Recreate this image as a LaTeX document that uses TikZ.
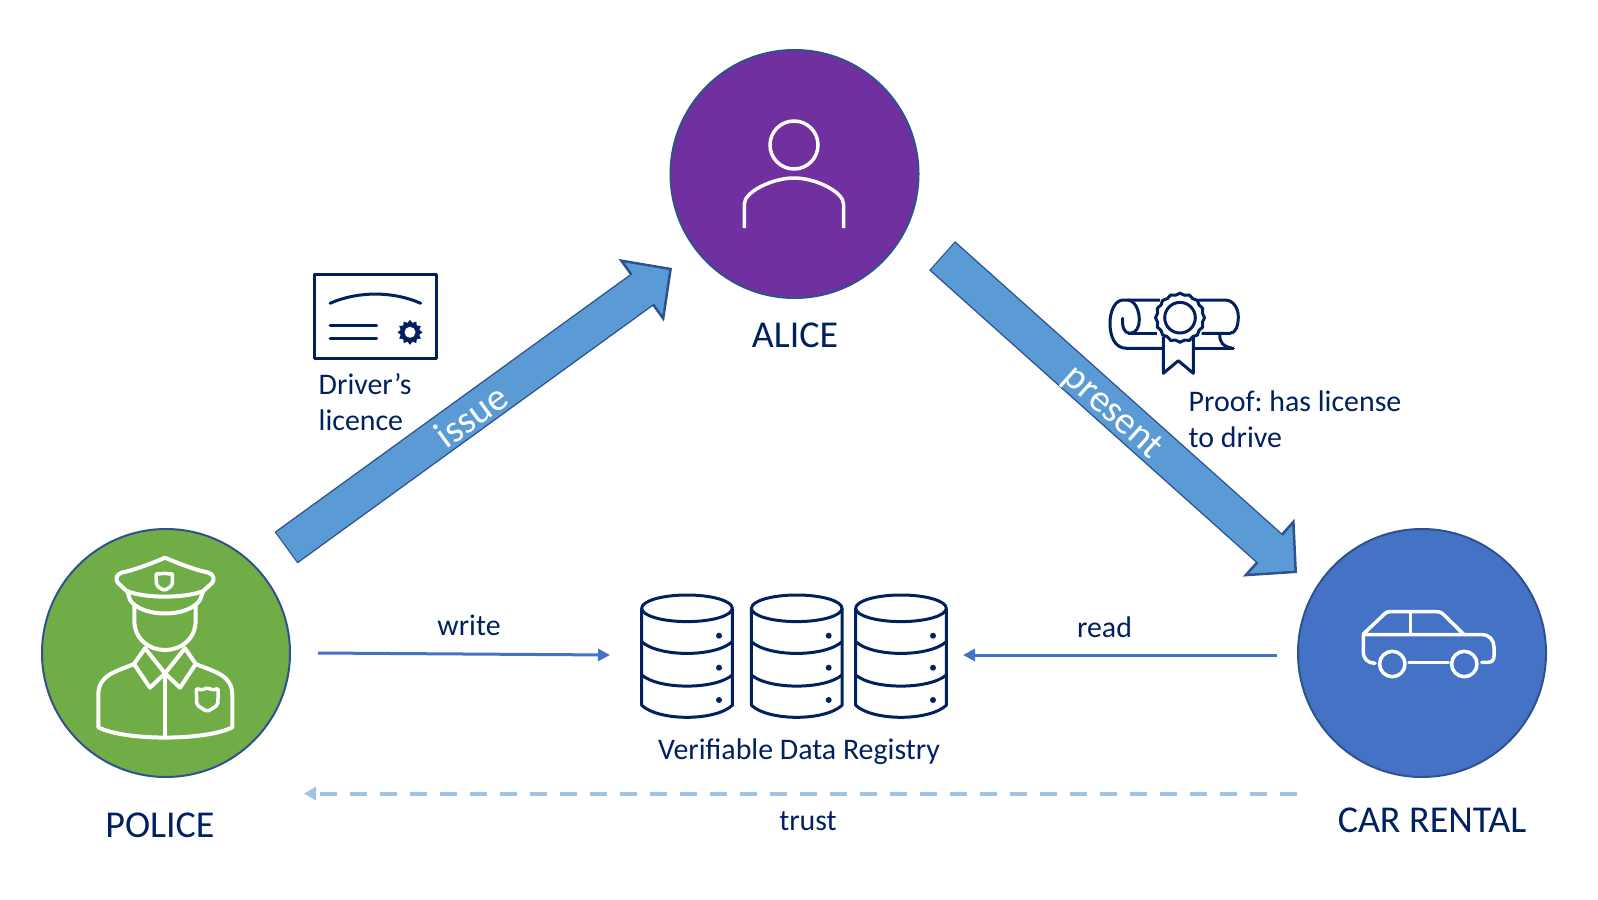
\documentclass[tikz,border=0pt]{standalone}
\usepackage{fontspec}
\setmainfont{Carlito}
\frenchspacing
\usetikzlibrary{arrows.meta,shapes.geometric}
\definecolor{navy}{HTML}{002060}
\definecolor{rim}{HTML}{2F528F}
\definecolor{arrowblue}{HTML}{5B9BD5}
\definecolor{alicepurple}{HTML}{7030A0}
\definecolor{policegreen}{HTML}{70AD47}
\definecolor{rentalblue}{HTML}{4472C4}
\definecolor{trustblue}{HTML}{9DC3E6}
\tikzset{
    party/.style={circle,draw=rim,line width=.2mm,minimum size=24.8mm,inner sep=0pt},
    caption/.style={text=navy,font=\fontsize{10.8pt}{12pt}\selectfont,inner sep=0pt},
    note/.style={text=navy,font=\fontsize{8.5pt}{10.1pt}\selectfont,inner sep=0pt,align=left},
    bigarrow/.style={line width=3.62mm,draw=arrowblue,shorten >=3.4mm,
        preaction={draw=rim,line width=3.9mm,shorten >=0pt,shorten <=-.12mm,
            -{Triangle[length=3.8mm,width=7.7mm,fill=arrowblue,line width=.25mm]}}},
    biglabel/.style={text=white,font=\fontsize{11pt}{12pt}\selectfont,sloped,inner sep=0pt},
    thinarrow/.style={draw=rentalblue,line width=.3mm,-{Triangle[length=1.2mm,width=1.2mm]}},
    icon/.style={line width=.35mm,draw=white,line cap=round,line join=round},
    officer/.style={icon,line width=.4mm},
    navyicon/.style={line width=.3mm,draw=navy,line join=round},
    shield/.pic={
        \draw[icon,rounded corners=.2mm] (-11,-10) -- (-5,-8) -- (0,-11) -- (5,-8) -- (11,-10)
            -- (10.5,6.7) -- (0,13.4) -- (-10.5,6.7) -- cycle;
    },
    dbstack/.pic={
        \draw[navyicon] (0,0) ellipse [x radius=45.3,y radius=13.3];
        \draw[navyicon] (-45.3,0) -- (-45.3,97) .. controls (-28,113) and (28,113) .. (45.3,97) -- (45.3,0);
        \draw[navyicon] (-45.3,33.4) .. controls (-28,49) and (28,49) .. (45.3,33.4);
        \draw[navyicon] (-45.3,66.7) .. controls (-28,81.5) and (28,81.5) .. (45.3,66.7);
        \fill[navy] (32,27.4) circle (3) (32,59.4) circle (3) (32,91.7) circle (3);
    }
}
\begin{document}
\begin{tikzpicture}[x=.1mm,y=-.1mm]
    \useasboundingbox (0,0) rectangle (1598,900);

    % the three parties
    \node[party,fill=alicepurple] (alice) at (794.5,174) {};
    \node[party,fill=policegreen] (police) at (166,653) {};
    \node[party,fill=rentalblue] (rental) at (1422,653) {};
    \node[caption] (alicename) at (795,335) {ALICE};
    \node[caption] (policename) at (160,825) {POLICE};
    \node[caption] (rentalname) at (1432,820) {CAR RENTAL};

    % big arrows
    \coordinate (issuetail) at (287,547);
    \coordinate (issuetip) at (672,268);
    \coordinate (presenttail) at (943,256.5);
    \coordinate (presenttip) at (1297,573);
    \draw[bigarrow] (issuetail) -- (issuetip) node[biglabel,pos=.475,yshift=-.2mm] (issue) {issue};
    \draw[bigarrow] (presenttail) -- (presenttip) node[biglabel,pos=.485,yshift=-.4mm] (present) {present};

    % thin arrows
    \coordinate (writetail) at (318,653);
    \coordinate (writetip) at (610,655);
    \coordinate (readtail) at (1277,655);
    \coordinate (readtip) at (963,655);
    \coordinate (trusttail) at (1297,793.5);
    \coordinate (trusttip) at (304,793.5);
    \draw[thinarrow] (writetail) -- (writetip);
    \draw[thinarrow] (readtail) -- (readtip);
    \draw[draw=trustblue,line width=.4mm,dash pattern=on 1.7mm off 1.3mm,
        -{Triangle[length=1.2mm,width=1.3mm,fill=trustblue]}] (trusttail) -- (trusttip);
    \node[note] (write) at (469,625) {write};
    \node[note] (read) at (1104.5,627) {read};
    \node[note] (trust) at (808,821) {trust};

    % registry
    \pic at (687,608.3) {dbstack};
    \pic at (796.7,608.3) {dbstack};
    \pic at (901,608.3) {dbstack};
    \node[note] (registry) at (799,752) {Verifiable Data Registry};

    % person
    \draw[icon] (794,145) circle (24);
    \draw[icon,line cap=butt] (744.3,228) -- (744.3,204) .. controls (744.3,192) and (772,178) .. (794,178)
        .. controls (816,178) and (843.5,192) .. (843.5,204) -- (843.5,228);

    % car
    \draw[icon] (1363.3,634) -- (1385,613.5) .. controls (1386,612) and (1388,611.7) .. (1390,611.7) -- (1437,611.7)
        .. controls (1439,611.7) and (1441,612) .. (1443,614) -- (1464,634.5) -- (1363.3,634.5) -- (1363.3,651.7)
        .. controls (1363.3,659) and (1368,663.3) .. (1375,663.3);
    \draw[icon] (1410.7,611.7) -- (1410.7,634);
    \draw[icon] (1464,634.5) -- (1482,634.5) .. controls (1489,634.5) and (1494,640) .. (1494,647) -- (1494,656)
        .. controls (1494,660) and (1492,662.3) .. (1488,662.3) -- (1481.7,662.3);
    \draw[icon] (1409,662.3) -- (1448.3,662.3);
    \draw[icon] (1392.3,664) circle (12.7);
    \draw[icon] (1464.3,664) circle (12.7);

    % officer
    \draw[officer] (165,557.7) .. controls (155,562) and (135,570) .. (122,572.5)
        .. controls (116,574) and (115,580) .. (118,583) -- (126.7,591)
        .. controls (145,598.5) and (185,598.5) .. (203.3,591) -- (212,583)
        .. controls (215,580) and (214,574) .. (208,572.5) .. controls (195,570) and (175,562) .. (165,557.7) -- cycle;
    \draw[officer] (127.3,591) -- (130,600) .. controls (142,618) and (188,618) .. (200,600) -- (203.3,591);
    \draw[officer] (134.3,606.7) -- (134.3,620) .. controls (134.3,640) and (150,650) .. (165,650)
        .. controls (180,650) and (195.7,640) .. (195.7,620) -- (195.7,606.7);
    \draw[officer] (145,648.3) -- (134,664) -- (150,687.7) -- (165,673.3) -- (180,687.7) -- (195.7,664) -- (185,648.3);
    \draw[officer] (145,648.3) -- (165,673.3) -- (185,648.3);
    \draw[officer] (134,664) .. controls (115,672) and (98.3,675) .. (98.3,695) -- (98.3,727.3)
        .. controls (125,741) and (205,741) .. (232.3,727.3) -- (232.3,695) .. controls (232.3,675) and (215,672) .. (195.7,664);
    \draw[officer] (165,673.3) -- (165,737);
    \pic at (207.3,698.3) {shield};
    \pic[scale=.75] at (164.3,580.6) {shield};

    % licence
    \draw[navyicon] (314,274) rectangle (436.7,358.3);
    \draw[navyicon,line cap=round] (330,303.3) .. controls (358,291) and (393,291) .. (420.7,303.3);
    \draw[navyicon,line cap=round] (330,325.3) -- (376.7,325.3);
    \draw[navyicon,line cap=round] (330,338.3) -- (376.7,338.3);
    \node[star,star points=12,star point ratio=1.3,fill=navy,minimum size=2.5mm,inner sep=0pt] (stamp) at (410,332.3) {};
    \fill[white] (stamp.center) circle (5.5);
    \node[note] (licence) at (318,402) [anchor=west] {Driver’s\\licence};

    % diploma
    \draw[navyicon] (1160,300) -- (1123.3,300) .. controls (1115,300) and (1110,311) .. (1110,323.3)
        .. controls (1110,337) and (1115,348.3) .. (1126.7,348.3) -- (1163.3,348.3);
    \draw[navyicon] (1198.3,300) -- (1225,300) .. controls (1233,300) and (1238.3,308) .. (1238.3,316.7)
        .. controls (1238.3,325) and (1236,333.3) .. (1230,333.3) -- (1201.7,333.3);
    \draw[navyicon] (1157.3,333.3) -- (1128.3,333.3);
    \draw[navyicon,line cap=round] (1193.3,348.3) -- (1233.3,348.3);
    \draw[navyicon] (1220,334) .. controls (1219,342) and (1223,347) .. (1233.3,348.3);
    \draw[navyicon,line cap=round] (1122.7,318.3) .. controls (1122,327) and (1124,333.3) .. (1130,333.3)
        .. controls (1136,333.3) and (1139.3,327) .. (1139.3,320) .. controls (1139.3,310) and (1135,301) .. (1128,300);
    \draw[navyicon] (1163.3,337) -- (1163.3,373.3) -- (1178.3,360.7) -- (1193.3,373.3) -- (1193.3,337);
    \node[star,star points=16,star point ratio=1.07,draw=navy,fill=white,line width=.3mm,minimum size=4.9mm,inner sep=0pt] (seal) at (1180,317.7) {};
    \draw[navyicon] (seal.center) circle (15.3);
    \node[note] (proof) at (1188,419) [anchor=west] {Proof: has license\\to drive};
\end{tikzpicture}
\end{document}
